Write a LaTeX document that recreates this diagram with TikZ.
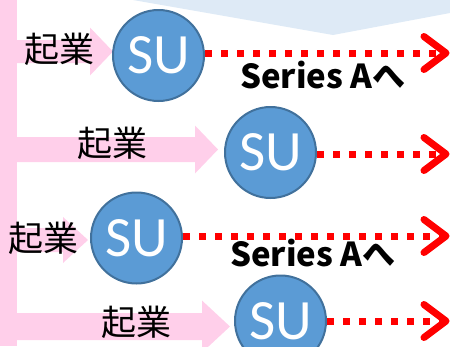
\documentclass[tikz,border=0pt]{standalone}
\usepackage{fontspec}
\newfontfamily\jpfont{Noto Sans CJK JP}
\newfontfamily\sufont{Carlito}
\definecolor{pinkfill}{RGB}{255,207,234}
\definecolor{topblue}{RGB}{222,234,246}
\definecolor{sufill}{RGB}{91,155,213}
\definecolor{sudraw}{RGB}{65,113,156}
\tikzset{
  pinkshape/.style={fill=pinkfill, draw=none},
  subox/.style={circle, fill=sufill, draw=sudraw, line width=2pt, minimum size=91pt, inner sep=0pt,
    text=white, font=\sufont\fontsize{57}{57}\selectfont, text height=36.5pt, text depth=0pt},
  kigyo/.style={inner sep=0pt, font=\jpfont\fontsize{35}{35}\selectfont},
  serieslbl/.style={inner sep=0pt, anchor=base west, font=\jpfont\bfseries\fontsize{33}{33}\selectfont},
  reddots/.style={draw=red, line width=7pt, dash pattern=on 7pt off 9pt},
  chevron/.style={draw=red, line width=7pt, line cap=round, line join=round}
}
\newcommand\PinkArrow[5]{%
  \fill[pinkshape] (10,{#1-#2}) -- (#3,{#1-#2}) -- (#3,{#1-#5}) -- (#4,#1) -- (#3,{#1+#5}) -- (#3,{#1+#2}) -- (10,{#1+#2}) -- cycle;}
\begin{document}
\begin{tikzpicture}[x=1pt, y=-1pt]
\useasboundingbox (0,0) rectangle (450,346);
% top light blue shape
\fill[topblue] (133,0) -- (333,35) -- (450,13) -- (450,0) -- cycle;
% pink vertical bar
\fill[pinkshape] (0,0) rectangle (17,346);
% pink arrows
\PinkArrow{51.5}{11.5}{90}{113}{24}
\PinkArrow{149.5}{12.5}{195}{218}{24}
\PinkArrow{240}{12}{63}{88}{23}
\PinkArrow{326.5}{13.5}{202}{230}{26}
% circles
\node[subox] (su1) at (158.5,55.5) {SU};
\node[subox] (su2) at (270.5,152.5) {SU};
\node[subox] (su3) at (136.5,238) {SU};
\node[subox] (su4) at (280.5,321) {SU};
% end points
\coordinate (e1) at (446,53);
\coordinate (e2) at (446,154);
\coordinate (e3) at (446,236);
\coordinate (e4) at (446,321);
\foreach \i in {1,2,3,4}{
  \draw[reddots] (su\i.east |- e\i) -- (e\i);
  \draw[chevron] ([xshift=-22pt,yshift=16.5pt]e\i) -- (e\i) -- ([xshift=-22pt,yshift=-16.5pt]e\i);
}
% labels
\node[kigyo] (k1) at (59,49.5) {起業};
\node[kigyo] (k2) at (112,143.5) {起業};
\node[kigyo] (k3) at (44,238) {起業};
\node[kigyo] (k4) at (136,322) {起業};
\node[serieslbl] (s1) at (240,88) {Series Aへ};
\node[serieslbl] (s3) at (230,266) {Series Aへ};
\end{tikzpicture}
\end{document}
